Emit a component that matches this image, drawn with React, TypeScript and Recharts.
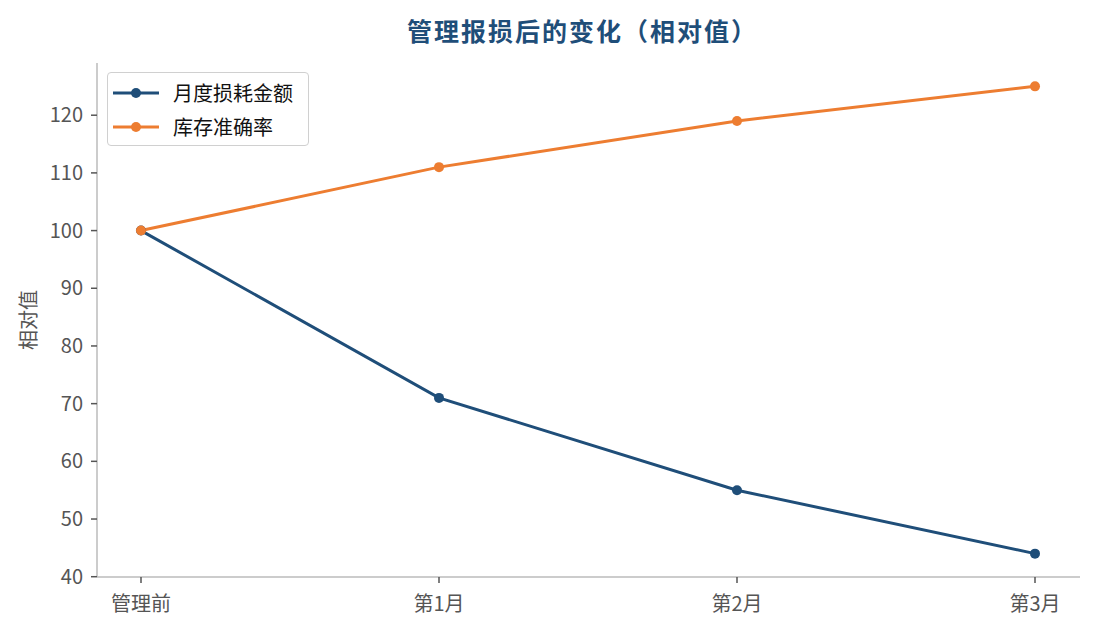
import React from "react";
import { LineChart, Line, XAxis, YAxis } from "recharts";

const categories: string[] = ["管理前", "第1月", "第2月", "第3月"];
const lossValues: number[] = [100, 71, 55, 44];
const accuracyValues: number[] = [100, 111, 119, 125];
const yTicks: number[] = [40, 50, 60, 70, 80, 90, 100, 110, 120];

const lossName = "月度损耗金额";
const accuracyName = "库存准确率";

const BLUE = "#1f4e79";
const ORANGE = "#ed7d31";
const FONT = '"Noto Sans CJK SC", "Noto Sans", sans-serif';

const data = categories.map((c, i) => ({
  name: c,
  loss: lossValues[i],
  accuracy: accuracyValues[i],
}));

const LegendBox = () => {
  const items = [
    { label: lossName, color: BLUE },
    { label: accuracyName, color: ORANGE },
  ];
  return (
    <div
      style={{
        position: "absolute",
        left: 107,
        top: 72,
        width: 202,
        height: 74,
        boxSizing: "border-box",
        border: "1.5px solid #d0d0d0",
        borderRadius: 4,
        background: "#fff",
        padding: "3px 0 0 5px",
        fontFamily: FONT,
      }}
    >
      {items.map((it) => (
        <div
          key={it.label}
          style={{ display: "flex", alignItems: "center", height: 34 }}
        >
          <svg width={46} height={14} style={{ marginRight: 14 }}>
            <line x1={0} y1={7} x2={46} y2={7} stroke={it.color} strokeWidth={3} />
            <circle cx={23} cy={7} r={5} fill={it.color} />
          </svg>
          <span style={{ fontSize: 20, color: "#111", lineHeight: "20px" }}>{it.label}</span>
        </div>
      ))}
    </div>
  );
};

export default function App() {
  return (
    <div
      style={{
        position: "absolute",
        left: 0,
        top: 0,
        width: 1095,
        height: 630,
        background: "#fff",
        fontFamily: FONT,
      }}
    >
      <div
        style={{
          position: "absolute",
          top: 12,
          left: 0,
          width: 1165,
          textAlign: "center",
          fontSize: 25,
          letterSpacing: 2,
          fontWeight: 700,
          color: BLUE,
          lineHeight: "36px",
        }}
      >
        管理报损后的变化（相对值）
      </div>
      <div
        style={{
          position: "absolute",
          left: 27,
          top: 320,
          transform: "translate(-50%, -50%) rotate(-90deg)",
          fontSize: 20,
          color: "#555",
          whiteSpace: "nowrap",
        }}
      >
        相对值
      </div>
      <LineChart
        width={1095}
        height={630}
        data={data}
        margin={{ top: 63, right: 15, left: 0, bottom: 0 }}
      >
        <XAxis
          dataKey="name"
          padding={{ left: 44, right: 45 }}
          axisLine={{ stroke: "#bbbbbb", strokeWidth: 1.5 }}
          tickLine={{ stroke: "#555", strokeWidth: 1.5 }}
          tickSize={6}
          tick={{ fontSize: 20, fill: "#555", fontFamily: FONT }}
          tickMargin={14}
          height={53}
        />
        <YAxis
          width={97}
          domain={[39.95, 129.05]}
          ticks={yTicks}
          allowDataOverflow
          axisLine={{ stroke: "#bbbbbb", strokeWidth: 1.5 }}
          tickLine={{ stroke: "#555", strokeWidth: 1.5 }}
          tickSize={6}
          tick={{ fontSize: 20, fill: "#555", fontFamily: FONT }}
          tickMargin={8}
        />
        <Line
          type="linear"
          dataKey="loss"
          name={lossName}
          stroke={BLUE}
          strokeWidth={3}
          dot={{ r: 5, fill: BLUE, stroke: BLUE, strokeWidth: 0 }}
          isAnimationActive={false}
        />
        <Line
          type="linear"
          dataKey="accuracy"
          name={accuracyName}
          stroke={ORANGE}
          strokeWidth={3}
          dot={{ r: 5, fill: ORANGE, stroke: ORANGE, strokeWidth: 0 }}
          isAnimationActive={false}
        />
      </LineChart>
      <LegendBox />
    </div>
  );
}
